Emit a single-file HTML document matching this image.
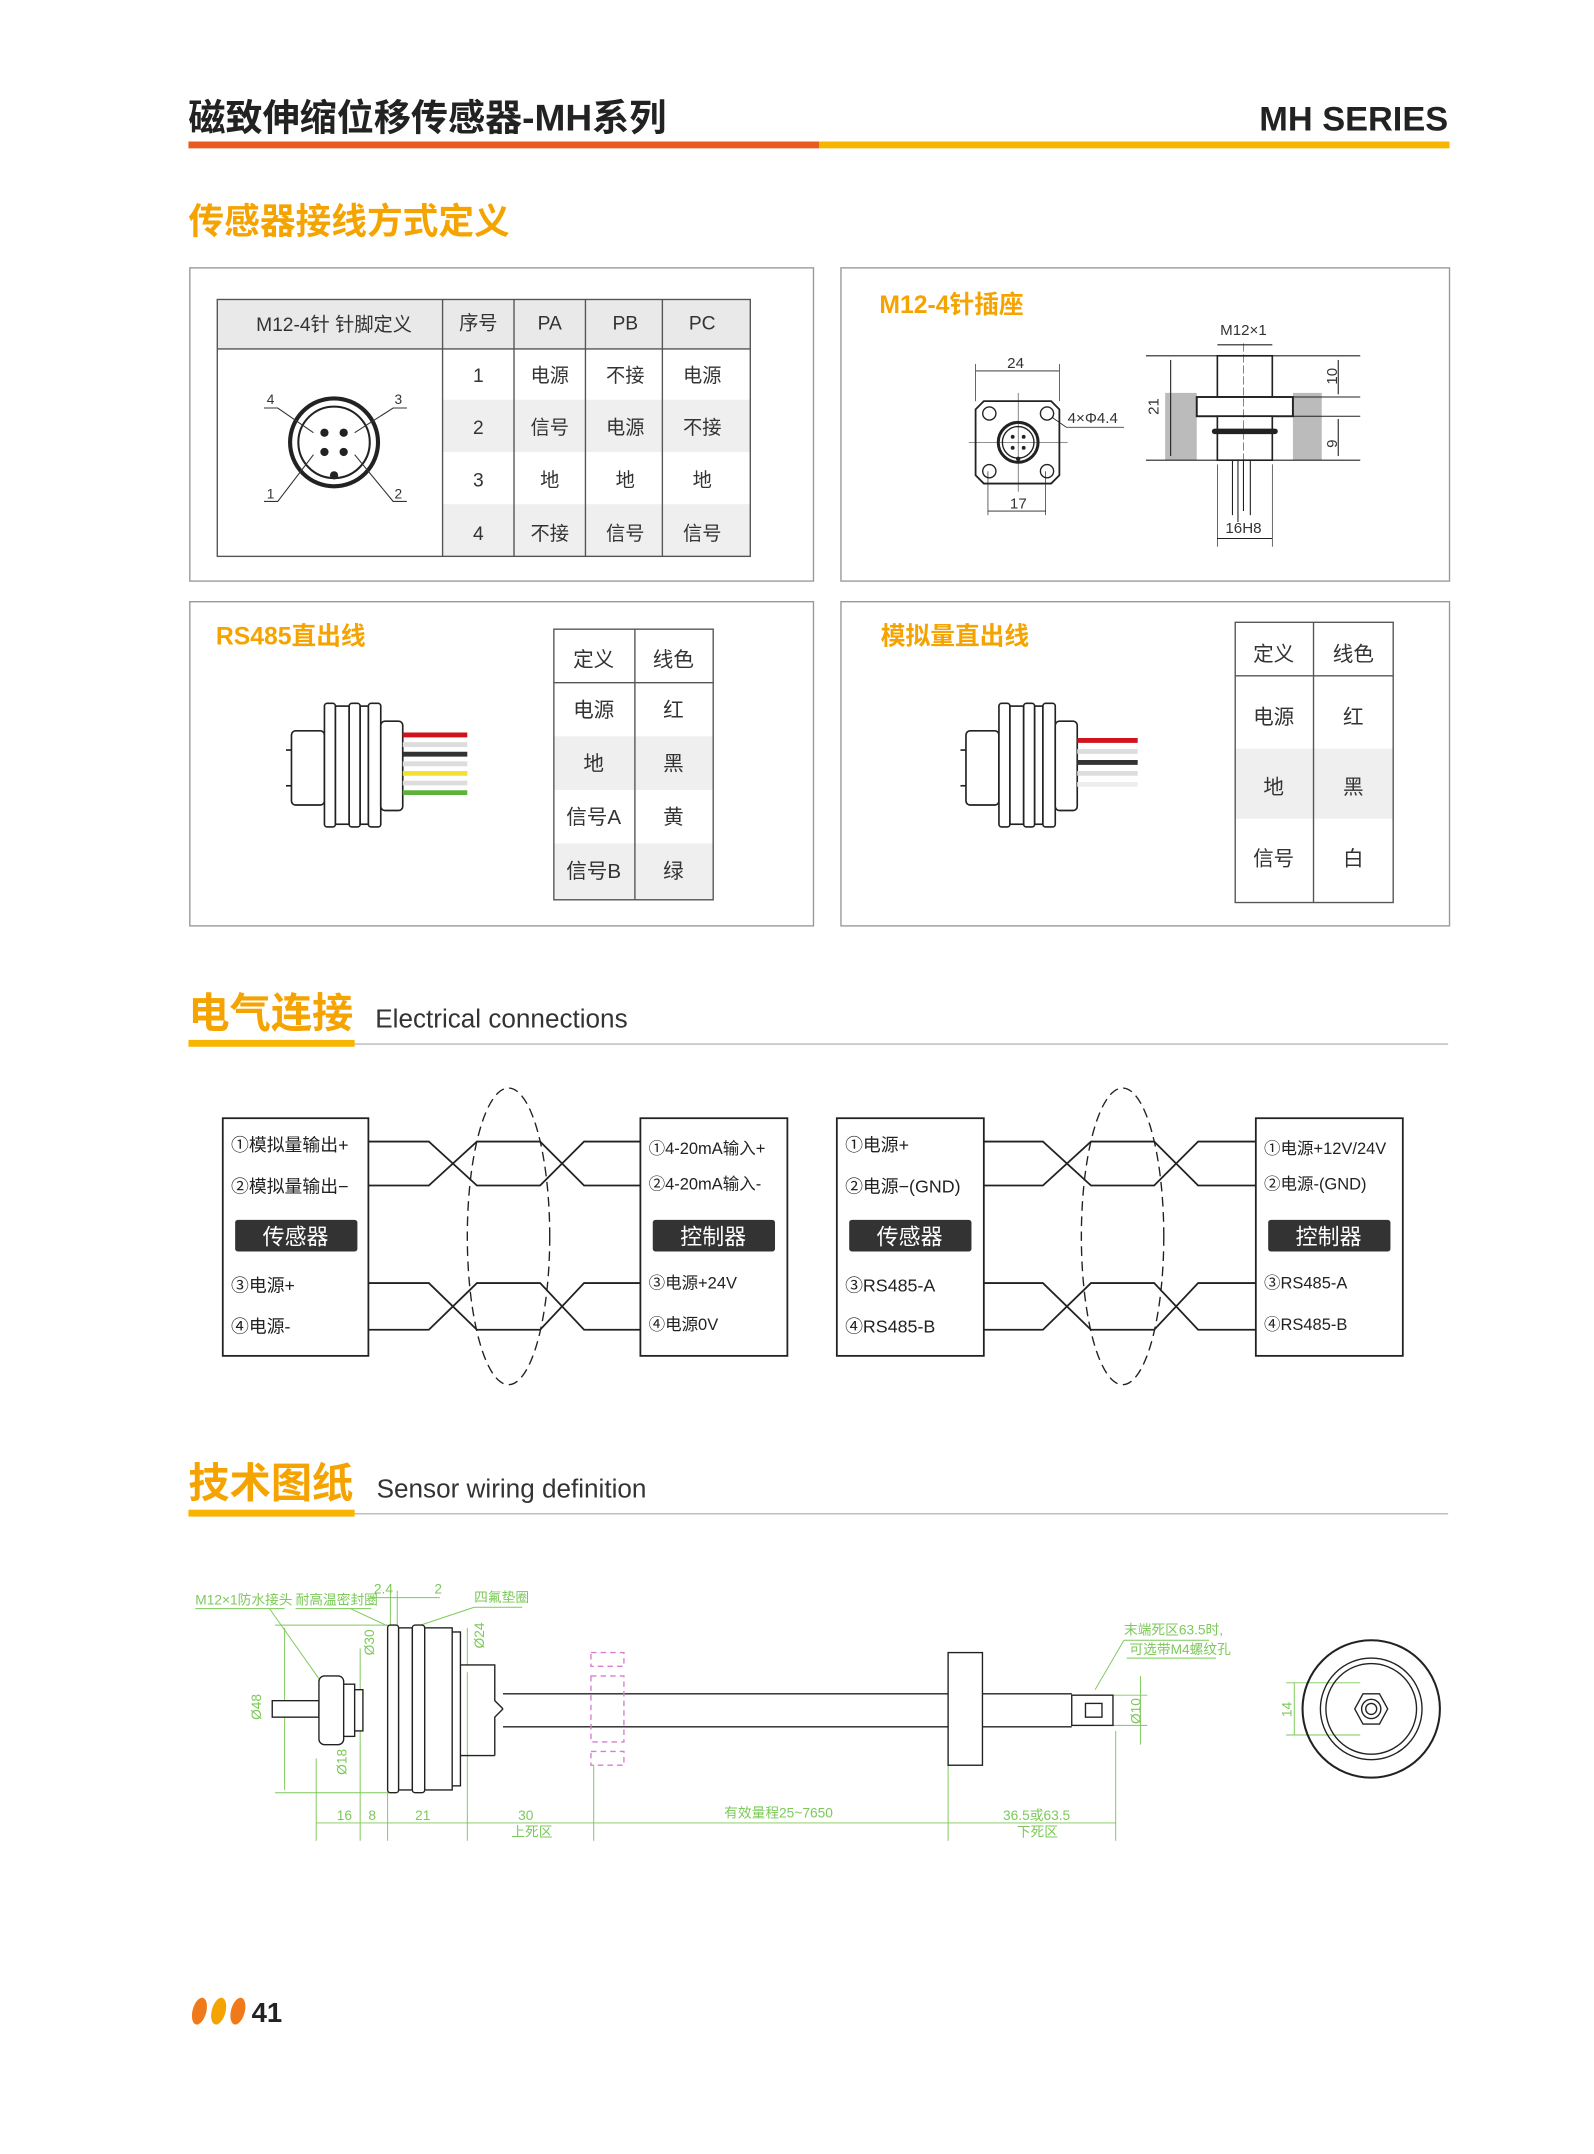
<!DOCTYPE html>
<html><head><meta charset="utf-8"><style>
html,body{margin:0;padding:0;background:#fff;}
svg{display:block;}
text{font-family:"Liberation Sans","Noto Sans CJK SC",sans-serif;}
</style></head><body>
<svg width="1594" height="2154" viewBox="0 0 1160 1568" xmlns="http://www.w3.org/2000/svg">
<rect width="1160" height="1568" fill="#fff"/>
<!-- header -->
<text x="137" y="95" font-size="27" font-weight="bold" fill="#222">磁致伸缩位移传感器-MH系列</text>
<text x="1054" y="95" font-size="25" font-weight="bold" fill="#222" text-anchor="end">MH SERIES</text>
<rect x="137" y="103" width="459" height="5" fill="#e85a1e"/>
<rect x="596" y="103" width="459" height="5" fill="#f8b500"/>
<text x="137" y="170" font-size="26" font-weight="bold" fill="#f5a300">传感器接线方式定义</text>

<!-- panels -->
<g fill="none" stroke="#999" stroke-width="1">
<rect x="138" y="195" width="454" height="228"/>
<rect x="612" y="195" width="443" height="228"/>
<rect x="138" y="438" width="454" height="236"/>
<rect x="612" y="438" width="443" height="236"/>
</g>

<!-- table 1 -->
<rect x="158" y="218" width="388" height="36" fill="#e9e9e9"/>
<rect x="322" y="291" width="224" height="38" fill="#efefef"/>
<rect x="322" y="367" width="224" height="38" fill="#efefef"/>
<g stroke="#555" stroke-width="1" fill="none">
<rect x="158" y="218" width="388" height="187"/>
<line x1="158" y1="254" x2="546" y2="254"/>
<line x1="322" y1="218" x2="322" y2="405"/>
<line x1="374" y1="218" x2="374" y2="405"/>
<line x1="426" y1="218" x2="426" y2="405"/>
<line x1="482" y1="218" x2="482" y2="405"/>
</g>
<g font-size="14" fill="#333" text-anchor="middle">
<text x="243" y="241">M12-4针 针脚定义</text>
<text x="348" y="240">序号</text><text x="400" y="240">PA</text><text x="455" y="240">PB</text><text x="511" y="240">PC</text>
<text x="348" y="278">1</text><text x="400" y="278">电源</text><text x="455" y="278">不接</text><text x="511" y="278">电源</text>
<text x="348" y="316">2</text><text x="400" y="316">信号</text><text x="455" y="316">电源</text><text x="511" y="316">不接</text>
<text x="348" y="354">3</text><text x="400" y="354">地</text><text x="455" y="354">地</text><text x="511" y="354">地</text>
<text x="348" y="393">4</text><text x="400" y="393">不接</text><text x="455" y="393">信号</text><text x="511" y="393">信号</text>
</g>
<!-- connector face -->
<circle cx="243" cy="322" r="32" fill="none" stroke="#222" stroke-width="3"/>
<circle cx="243" cy="322" r="26" fill="none" stroke="#222" stroke-width="1.5"/>
<g fill="#222"><circle cx="236" cy="315" r="3"/><circle cx="250" cy="315" r="3"/><circle cx="236" cy="329" r="3"/><circle cx="250" cy="329" r="3"/><circle cx="243" cy="346" r="3"/></g>
<g stroke="#333" stroke-width="0.8" fill="none">
<polyline points="192,297 202,297 228,315"/><polyline points="296,297 286,297 258,315"/>
<polyline points="192,365 202,365 228,331"/><polyline points="296,365 286,365 258,331"/>
</g>
<g font-size="10" fill="#333"><text x="194" y="294">4</text><text x="287" y="294">3</text><text x="194" y="363">1</text><text x="287" y="363">2</text></g>

<!-- panel 2 -->
<text x="640" y="228" font-size="18" font-weight="bold" fill="#f5a300">M12-4针插座</text>
<g stroke="#222" fill="none">
<path d="M716,292 H765 L771,298 V346 L765,352 H716 L710,346 V298 Z" stroke-width="1.3"/>
<circle cx="720" cy="301" r="4.8"/><circle cx="762" cy="301" r="4.8"/><circle cx="720" cy="343" r="4.8"/><circle cx="762" cy="343" r="4.8"/>
<circle cx="741" cy="322" r="14.5" stroke-width="2.2"/><circle cx="741" cy="322" r="11.5" stroke-width="1"/>
<line x1="741" y1="286" x2="741" y2="358" stroke-width="0.4"/><line x1="705" y1="322" x2="777" y2="322" stroke-width="0.4"/>
<line x1="710" y1="265" x2="710" y2="292" stroke-width="0.5"/><line x1="771" y1="265" x2="771" y2="292" stroke-width="0.5"/>
<line x1="710" y1="270" x2="771" y2="270" stroke-width="0.6"/>
<line x1="719" y1="343" x2="719" y2="375" stroke-width="0.5"/><line x1="761" y1="343" x2="761" y2="375" stroke-width="0.5"/>
<line x1="719" y1="372" x2="761" y2="372" stroke-width="0.6"/>
<polyline points="766,304 776,311 818,311" stroke-width="0.6"/>
</g>
<g fill="#222"><circle cx="737" cy="318" r="1.4"/><circle cx="745" cy="318" r="1.4"/><circle cx="737" cy="326" r="1.4"/><circle cx="745" cy="326" r="1.4"/><circle cx="741" cy="334" r="1.6"/></g>
<g font-size="11" fill="#333"><text x="733" y="268">24</text><text x="735" y="370">17</text><text x="777" y="308">4×Φ4.4</text></g>
<!-- side view -->
<rect x="848" y="286" width="23" height="49" fill="#bbb"/><rect x="941" y="286" width="21" height="49" fill="#bbb"/>
<g stroke="#222" fill="none" stroke-width="0.8">
<line x1="834" y1="259" x2="990" y2="259"/><line x1="834" y1="335" x2="990" y2="335"/>
<line x1="941" y1="289" x2="990" y2="289"/><line x1="941" y1="303" x2="990" y2="303"/>
<rect x="886" y="259" width="40" height="30" fill="#fff" stroke-width="1.2"/>
<rect x="871" y="289" width="70" height="14" fill="#fff" stroke-width="1.4"/>
<rect x="886" y="303" width="40" height="32" fill="#fff" stroke-width="1.2"/>
<line x1="905" y1="250" x2="905" y2="345" stroke-width="0.4" stroke-dasharray="6,2"/>
<line x1="897" y1="335" x2="897" y2="375"/><line x1="901" y1="335" x2="901" y2="380"/><line x1="905" y1="335" x2="905" y2="372"/><line x1="910" y1="335" x2="910" y2="375"/>
<line x1="852" y1="262" x2="852" y2="332"/><line x1="974" y1="262" x2="974" y2="287"/><line x1="974" y1="305" x2="974" y2="332"/>
<line x1="886" y1="251" x2="926" y2="251"/><line x1="886" y1="392" x2="926" y2="392"/>
<line x1="886" y1="338" x2="886" y2="398" stroke-width="0.5"/><line x1="926" y1="338" x2="926" y2="398" stroke-width="0.5"/>
</g>
<line x1="884" y1="314" x2="928" y2="314" stroke="#222" stroke-width="4" stroke-linecap="round"/>
<g font-size="11" fill="#333">
<text x="905" y="244" text-anchor="middle">M12×1</text><text x="905" y="388" text-anchor="middle">16H8</text>
<text transform="translate(843,302) rotate(-90)" >21</text>
<text transform="translate(973,280) rotate(-90)">10</text>
<text transform="translate(973,326) rotate(-90)">9</text>
</g>

<!-- panel 3 -->
<text x="157" y="469" font-size="18" font-weight="bold" fill="#f5a300">RS485直出线</text>
<rect x="403" y="536" width="116" height="39" fill="#efefef"/><rect x="403" y="614" width="116" height="41" fill="#efefef"/>
<g stroke="#555" fill="none"><rect x="403" y="458" width="116" height="197"/><line x1="403" y1="497" x2="519" y2="497"/><line x1="462" y1="458" x2="462" y2="655"/></g>
<g font-size="15" fill="#333" text-anchor="middle">
<text x="432" y="485">定义</text><text x="490" y="485">线色</text>
<text x="432" y="522">电源</text><text x="490" y="522">红</text>
<text x="432" y="561">地</text><text x="490" y="561">黑</text>
<text x="432" y="600">信号A</text><text x="490" y="600">黄</text>
<text x="432" y="639">信号B</text><text x="490" y="639">绿</text>
</g>
<g id="conn" stroke="#222" fill="#fff" stroke-width="1.2">
<rect x="212" y="532" width="24" height="54" rx="3"/>
<line x1="208" y1="546" x2="212" y2="546"/><line x1="208" y1="572" x2="212" y2="572"/>
<rect x="236" y="512" width="8" height="90" rx="2"/><rect x="244" y="514" width="10" height="86"/><rect x="254" y="512" width="8" height="90" rx="2"/><rect x="262" y="514" width="6" height="86"/><rect x="268" y="512" width="9" height="90" rx="2"/>
<rect x="277" y="525" width="16" height="65" rx="3"/>
</g>
<g stroke-width="3.5">
<line x1="293" y1="535" x2="340" y2="535" stroke="#d0121b"/>
<line x1="293" y1="542" x2="340" y2="542" stroke="#ddd"/>
<line x1="293" y1="549" x2="340" y2="549" stroke="#333"/>
<line x1="293" y1="556" x2="340" y2="556" stroke="#ddd"/>
<line x1="293" y1="563" x2="340" y2="563" stroke="#f2e12e"/>
<line x1="293" y1="570" x2="340" y2="570" stroke="#ddd"/>
<line x1="293" y1="577" x2="340" y2="577" stroke="#5db33a"/>
</g>

<!-- panel 4 -->
<text x="641" y="469" font-size="18" font-weight="bold" fill="#f5a300">模拟量直出线</text>
<rect x="899" y="545" width="115" height="51" fill="#efefef"/>
<g stroke="#555" fill="none"><rect x="899" y="453" width="115" height="204"/><line x1="899" y1="492" x2="1014" y2="492"/><line x1="956" y1="453" x2="956" y2="657"/></g>
<g font-size="15" fill="#333" text-anchor="middle">
<text x="927" y="481">定义</text><text x="985" y="481">线色</text>
<text x="927" y="527">电源</text><text x="985" y="527">红</text>
<text x="927" y="578">地</text><text x="985" y="578">黑</text>
<text x="927" y="630">信号</text><text x="985" y="630">白</text>
</g>
<use href="#conn" x="491" y="0"/>
<g stroke-width="3.5">
<line x1="784" y1="539" x2="828" y2="539" stroke="#d0121b"/>
<line x1="784" y1="547" x2="828" y2="547" stroke="#ddd"/>
<line x1="784" y1="555" x2="828" y2="555" stroke="#333"/>
<line x1="784" y1="563" x2="828" y2="563" stroke="#ddd"/>
<line x1="784" y1="571" x2="828" y2="571" stroke="#eee"/>
</g>

<!-- electrical connections -->
<text x="137" y="748" font-size="30" font-weight="bold" fill="#f5a300">电气连接</text>
<text x="273" y="748" font-size="19" fill="#333">Electrical connections</text>
<line x1="258" y1="760" x2="1054" y2="760" stroke="#aaa" stroke-width="0.8"/>
<rect x="137" y="757" width="121" height="5" fill="#f8b500"/>

<g stroke="#222" stroke-width="1.3" fill="none">
<rect x="162" y="814" width="106" height="173"/><rect x="466" y="814" width="107" height="173"/>
<rect x="609" y="814" width="107" height="173"/><rect x="914" y="814" width="107" height="173"/>
<path d="M268,831 H312 L347,863 H393 L425,831 H466 M268,863 H312 L347,831 H393 L425,863 H466"/>
<path d="M268,934 H312 L347,968 H393 L425,934 H466 M268,968 H312 L347,934 H393 L425,968 H466"/>
<path d="M716,831 H759 L794,863 H840 L872,831 H914 M716,863 H759 L794,831 H840 L872,863 H914"/>
<path d="M716,934 H759 L794,968 H840 L872,934 H914 M716,968 H759 L794,934 H840 L872,968 H914"/>
<ellipse cx="370" cy="900" rx="30" ry="108" stroke-dasharray="7,4" stroke-width="1"/>
<ellipse cx="817" cy="900" rx="30" ry="108" stroke-dasharray="7,4" stroke-width="1"/>
</g>
<g fill="#333">
<rect x="171" y="888" width="89" height="23" rx="2"/><rect x="475" y="888" width="89" height="23" rx="2"/>
<rect x="618" y="888" width="89" height="23" rx="2"/><rect x="923" y="888" width="89" height="23" rx="2"/>
</g>
<g font-size="16" fill="#fff" text-anchor="middle">
<text x="215" y="906">传感器</text><text x="519" y="906">控制器</text><text x="662" y="906">传感器</text><text x="967" y="906">控制器</text>
</g>
<g font-size="13" fill="#222">
<text x="168" y="838">①模拟量输出+</text><text x="168" y="868">②模拟量输出−</text><text x="168" y="940">③电源+</text><text x="168" y="970">④电源-</text>
<text x="472" y="840" font-size="12">①4-20mA输入+</text><text x="472" y="866" font-size="12">②4-20mA输入-</text><text x="472" y="938" font-size="12">③电源+24V</text><text x="472" y="968" font-size="12">④电源0V</text>
<text x="615" y="838">①电源+</text><text x="615" y="868">②电源−(GND)</text><text x="615" y="940">③RS485-A</text><text x="615" y="970">④RS485-B</text>
<text x="920" y="840" font-size="12">①电源+12V/24V</text><text x="920" y="866" font-size="12">②电源-(GND)</text><text x="920" y="938" font-size="12">③RS485-A</text><text x="920" y="968" font-size="12">④RS485-B</text>
</g>

<!-- technical drawing -->
<text x="137" y="1090" font-size="30" font-weight="bold" fill="#f5a300">技术图纸</text>
<text x="274" y="1090" font-size="19" fill="#333">Sensor wiring definition</text>
<line x1="258" y1="1102" x2="1054" y2="1102" stroke="#aaa" stroke-width="0.8"/>
<rect x="137" y="1099" width="121" height="5" fill="#f8b500"/>

<g stroke="#7cc95a" stroke-width="0.7" fill="none">
<line x1="142" y1="1171" x2="207" y2="1171"/><line x1="215" y1="1171" x2="270" y2="1171"/><line x1="345" y1="1170" x2="380" y2="1170"/>
<line x1="196" y1="1171" x2="232" y2="1222"/><line x1="255" y1="1171" x2="285" y2="1185"/><line x1="345" y1="1170" x2="300" y2="1185"/>
<line x1="270" y1="1163" x2="320" y2="1163"/><line x1="284" y1="1158" x2="284" y2="1184"/><line x1="289" y1="1158" x2="289" y2="1184"/>
<line x1="200" y1="1183" x2="285" y2="1183"/><line x1="200" y1="1305" x2="285" y2="1305"/><line x1="207" y1="1185" x2="207" y2="1303"/>
<line x1="262" y1="1200" x2="262" y2="1290"/><line x1="340" y1="1185" x2="340" y2="1280"/>
<line x1="230" y1="1280" x2="230" y2="1340"/><line x1="262" y1="1290" x2="262" y2="1340"/><line x1="282" y1="1305" x2="282" y2="1340"/>
<line x1="340" y1="1280" x2="340" y2="1340"/><line x1="432" y1="1285" x2="432" y2="1340"/><line x1="690" y1="1285" x2="690" y2="1340"/><line x1="812" y1="1260" x2="812" y2="1340"/>
<line x1="230" y1="1327" x2="812" y2="1327"/>
<line x1="818" y1="1194" x2="880" y2="1194"/><line x1="820" y1="1207" x2="885" y2="1207"/><line x1="818" y1="1194" x2="797" y2="1230"/>
<line x1="830" y1="1220" x2="830" y2="1270"/><line x1="810" y1="1234" x2="835" y2="1234"/><line x1="810" y1="1256" x2="835" y2="1256"/>
<line x1="936" y1="1225" x2="990" y2="1225"/><line x1="936" y1="1263" x2="990" y2="1263"/><line x1="942" y1="1225" x2="942" y2="1263"/>
</g>
<g font-size="10" fill="#7cc95a" font-family="Liberation Serif,Noto Serif CJK SC,serif">
<text x="142" y="1168">M12×1防水接头</text><text x="215" y="1168">耐高温密封圈</text><text x="272" y="1160">2.4</text><text x="316" y="1160">2</text><text x="345" y="1166">四氟垫圈</text>
<text x="245" y="1325">16</text><text x="268" y="1325">8</text><text x="302" y="1325">21</text><text x="377" y="1325">30</text><text x="372" y="1337">上死区</text>
<text x="527" y="1323">有效量程25~7650</text><text x="730" y="1325">36.5或63.5</text><text x="740" y="1337">下死区</text>
<text x="818" y="1190">末端死区63.5时,</text><text x="822" y="1204">可选带M4螺纹孔</text>
<text transform="translate(190,1252) rotate(-90)">Ø48</text><text transform="translate(272,1205) rotate(-90)">Ø30</text>
<text transform="translate(252,1292) rotate(-90)">Ø18</text><text transform="translate(352,1200) rotate(-90)">Ø24</text>
<text transform="translate(830,1255) rotate(-90)">Ø10</text><text transform="translate(940,1250) rotate(-90)">14</text>
</g>
<g stroke="#222" stroke-width="1" fill="#fff">
<rect x="198" y="1238" width="34" height="12"/>
<rect x="232" y="1220" width="18" height="50" rx="4"/><rect x="250" y="1226" width="8" height="38"/><rect x="258" y="1230" width="6" height="30"/>
<rect x="282" y="1183" width="8" height="122" rx="2"/><rect x="290" y="1185" width="10" height="118"/><rect x="300" y="1183" width="9" height="122" rx="2"/><rect x="309" y="1185" width="20" height="118"/><rect x="329" y="1188" width="6" height="112"/>
<path d="M335,1212 H360 V1238 L366,1244 M360,1278 V1250 L366,1244 M335,1278 H360"/>
<line x1="366" y1="1233" x2="690" y2="1233"/><line x1="366" y1="1257" x2="690" y2="1257"/>
<line x1="715" y1="1233" x2="780" y2="1233"/><line x1="715" y1="1257" x2="780" y2="1257"/>
<rect x="690" y="1203" width="25" height="82"/>
<rect x="780" y="1234" width="30" height="22"/><rect x="790" y="1240" width="12" height="10"/>
</g>
<g stroke="#d67fd1" stroke-width="1" fill="none" stroke-dasharray="4,3">
<rect x="430" y="1203" width="24" height="10"/><rect x="430" y="1220" width="24" height="48"/><rect x="430" y="1275" width="24" height="10"/>
</g>
<g stroke="#222" stroke-width="1" fill="none">
<circle cx="998" cy="1244" r="50" stroke-width="1.5"/><circle cx="998" cy="1244" r="37"/><circle cx="998" cy="1244" r="33"/>
<polygon points="986,1244 992,1233 1004,1233 1010,1244 1004,1255 992,1255"/>
<circle cx="998" cy="1244" r="7"/><circle cx="998" cy="1244" r="4"/>
</g>

<!-- footer -->
<g fill="#f07a1a">
<ellipse cx="145" cy="1464" rx="5" ry="10" transform="rotate(15 145 1464)"/>
<ellipse cx="159" cy="1464" rx="5" ry="10" transform="rotate(15 159 1464)" fill="#f5a300"/>
<ellipse cx="173" cy="1464" rx="5" ry="10" transform="rotate(15 173 1464)"/>
</g>
<text x="183" y="1472" font-size="20" font-weight="bold" fill="#222">41</text>
</svg>
</body></html>
